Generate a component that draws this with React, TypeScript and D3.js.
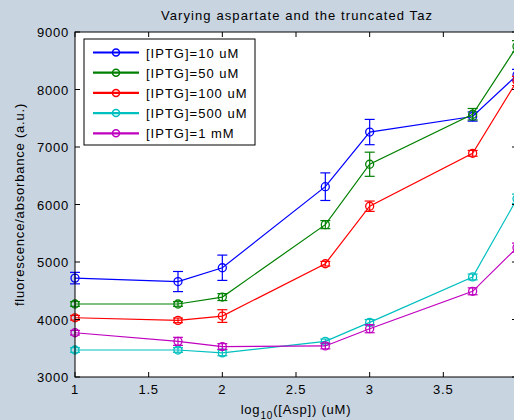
import React from "react";
import * as d3 from "d3";

// log10 of the aspartate concentrations (uM)
const logAsp = [1, 1.699, 2, 2.699, 3, 3.699, 4];

const seriesNames = [
  "[IPTG]=10 uM",
  "[IPTG]=50 uM",
  "[IPTG]=100 uM",
  "[IPTG]=500 uM",
  "[IPTG]=1 mM",
];
const seriesColors = ["#0000ff", "#008000", "#ff0000", "#00bfbf", "#bf00bf"];

const iptg10 = [4720, 4660, 4900, 6310, 7260, 7530, 8250];
const iptg10Err = [100, 175, 220, 240, 220, 80, 100];
const iptg50 = [4270, 4270, 4390, 5650, 6700, 7570, 8750];
const iptg50Err = [40, 40, 60, 70, 210, 100, 100];
const iptg100 = [4030, 3985, 4060, 4970, 5970, 6890, 8150];
const iptg100Err = [40, 40, 110, 40, 90, 50, 80];
const iptg500 = [3470, 3470, 3420, 3620, 3950, 4740, 6100];
const iptg500Err = [40, 40, 50, 40, 50, 50, 80];
const iptg1m = [3770, 3620, 3530, 3540, 3840, 4490, 5250];
const iptg1mErr = [40, 70, 50, 50, 70, 60, 80];

// the tick at 4 sits on the right edge, its label falls outside the figure
const xTicks = [1, 1.5, 2, 2.5, 3, 3.5];
const yTicks = [3000, 4000, 5000, 6000, 7000, 8000, 9000];

const values = [iptg10, iptg50, iptg100, iptg500, iptg1m];
const errors = [iptg10Err, iptg50Err, iptg100Err, iptg500Err, iptg1mErr];

const W = 514;
const H = 420;
const margin = { left: 75, right: -3, top: 32, bottom: 43 };
const font = "'Liberation Sans', Arial, sans-serif";

export default function App() {
  const x = d3.scaleLinear().domain([1, 4]).range([margin.left, W - margin.right]);
  const y = d3.scaleLinear().domain([3000, 9000]).range([H - margin.bottom, margin.top]);
  const [x0, x1] = x.range();
  const [y0, y1] = y.range();

  const line = d3
    .line<number>()
    .x((_, i) => x(logAsp[i]))
    .y((d) => y(d));

  // Legend rows
  const legX = 84;
  const legY = 39;
  const rowH = 20.2;

  return (
    <div style={{ position: "fixed", left: 0, top: 0 }}>
      <svg width={W} height={H} style={{ display: "block", overflow: "hidden" }} fontFamily={font}>
        <rect width={W} height={H} fill="#c8d4e0" />
        <rect x={x0} y={y1} width={x1 - x0} height={y0 - y1} fill="#ffffff" />

        <defs>
          <clipPath id="plotClip">
            <rect x={x0 - 6} y={y1 - 6} width={x1 - x0 + 12} height={y0 - y1 + 12} />
          </clipPath>
        </defs>

        {/* series */}
        <g clipPath="url(#plotClip)">
          {values.map((vals, s) => (
            <g key={s} stroke={seriesColors[s]} fill="none">
              <path d={line(vals) || ""} strokeWidth={1.2} />
              {vals.map((v, i) => {
                const cx = x(logAsp[i]);
                const e = errors[s][i];
                return (
                  <g key={i}>
                    <line x1={cx} x2={cx} y1={y(v - e)} y2={y(v + e)} strokeWidth={1.2} />
                    <line x1={cx - 5} x2={cx + 5} y1={y(v - e)} y2={y(v - e)} strokeWidth={1.2} />
                    <line x1={cx - 5} x2={cx + 5} y1={y(v + e)} y2={y(v + e)} strokeWidth={1.2} />
                    <circle cx={cx} cy={y(v)} r={4} strokeWidth={1.3} />
                  </g>
                );
              })}
            </g>
          ))}
        </g>

        {/* axes box and ticks */}
        <rect x={x0} y={y1} width={x1 - x0} height={y0 - y1} fill="none" stroke="#000" strokeWidth={1} />
        {xTicks.map((t) => (
          <g key={t}>
            <line x1={x(t)} x2={x(t)} y1={y0} y2={y0 - 5} stroke="#000" />
            <line x1={x(t)} x2={x(t)} y1={y1} y2={y1 + 5} stroke="#000" />
            <text x={x(t)} y={y0 + 17} textAnchor="middle" fontSize={13} letterSpacing={0.8} fill="#000">
              {String(t)}
            </text>
          </g>
        ))}
        {yTicks.map((t) => (
          <g key={t}>
            <line x1={x0} x2={x0 + 5} y1={y(t)} y2={y(t)} stroke="#000" />
            <line x1={x1} x2={x1 - 5} y1={y(t)} y2={y(t)} stroke="#000" />
            <text x={x0 - 6} y={y(t) + 5} textAnchor="end" fontSize={13} letterSpacing={0.8} fill="#000">
              {String(t)}
            </text>
          </g>
        ))}

        {/* title and axis labels */}
        <text x={297} y={20} textAnchor="middle" fontSize={13} letterSpacing={1.1} fill="#000">
          Varying aspartate and the truncated Taz
        </text>
        <text x={296} y={414} textAnchor="middle" fontSize={13} letterSpacing={0.8} fill="#000">
          log
          <tspan fontSize={10} dy={5}>10</tspan>
          <tspan dy={-5}>([Asp]) (uM)</tspan>
        </text>
        <text
          transform={`translate(24,${(y0 + y1) / 2}) rotate(-90)`}
          textAnchor="middle"
          fontSize={13}
          letterSpacing={0.8}
          fill="#000"
        >
          fluorescence/absorbance (a.u.)
        </text>

        {/* legend */}
        <rect x={legX} y={legY} width={171} height={106} fill="#ffffff" stroke="#000" strokeWidth={1} />
        {seriesNames.map((name, s) => {
          const ry = legY + 13.5 + s * rowH;
          return (
            <g key={name}>
              <line x1={93} x2={139} y1={ry} y2={ry} stroke={seriesColors[s]} strokeWidth={2.2} />
              <circle cx={116} cy={ry} r={3.5} fill="none" stroke={seriesColors[s]} strokeWidth={1.5} />
              <text x={146} y={ry + 5} fontSize={13} letterSpacing={1} fill="#000">
                {name}
              </text>
            </g>
          );
        })}
      </svg>
    </div>
  );
}
